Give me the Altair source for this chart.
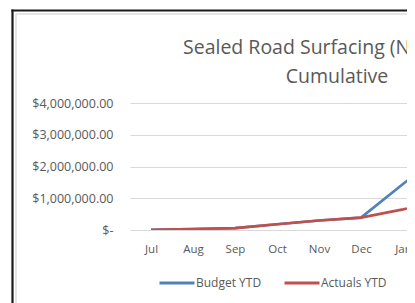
import json
import altair as alt
import pandas as pd

# ---- data ----
MONTHS = ["Jul", "Aug", "Sep", "Oct", "Nov", "Dec", "Jan", "Feb"]
BUDGET_YTD = [10000, 30000, 60000, 180000, 300000, 390000, 1450000, 2500000]
ACTUALS_YTD = [10000, 30000, 60000, 180000, 300000, 390000, 650000, 950000]
SERIES = ["Budget YTD", "Actuals YTD", "Forecast YTD"]
COLORS = ["#4F81BD", "#C0504D", "#9BBB59"]
Y_TICKS = [0, 1000000, 2000000, 3000000, 4000000]
TITLE_LINE1 = "Sealed Road Surfacing (Network)"
TITLE_LINE2 = "Cumulative"

rows = []
for name, vals in ((SERIES[0], BUDGET_YTD), (SERIES[1], ACTUALS_YTD)):
    for i, (m, v) in enumerate(zip(MONTHS, vals)):
        rows.append({"series": name, "idx": i, "month": m, "value": v})
df = pd.DataFrame(rows)

FONT = "Open Sans"
GREY = "#595959"

x_enc = alt.X(
    "idx:Q",
    scale=alt.Scale(domain=[-0.5, 6.095], nice=False, zero=False),
    axis=alt.Axis(
        title=None, values=list(range(len(MONTHS))),
        labelExpr=json.dumps(MONTHS) + "[datum.value]",
        grid=False, ticks=False, domain=False,
        labelFont=FONT, labelFontSize=11.5, labelColor=GREY, labelPadding=13,
        labelFlush=False, labelOverlap=False,
    ),
)
y_enc = alt.Y(
    "value:Q",
    scale=alt.Scale(domain=[0, 4000000], nice=False),
    axis=alt.Axis(
        title=None, values=Y_TICKS,
        labelExpr="datum.value == 0 ? '$-\u00a0\u00a0' : '$' + format(datum.value, ',.2f')",
        grid=True, gridColor="#d9d9d9", gridWidth=1,
        ticks=False, domain=False,
        labelFont=FONT, labelFontSize=12.5, labelColor=GREY, labelPadding=17,
    ),
)
color_enc = alt.Color(
    "series:N",
    scale=alt.Scale(domain=SERIES, range=COLORS),
    legend=alt.Legend(
        title=None, orient="none", direction="horizontal",
        legendX=28, legendY=161,
        symbolType="stroke", symbolSize=1225, symbolStrokeWidth=3,
        labelFont=FONT, labelFontSize=12, labelColor=GREY,
        labelOffset=0, columnPadding=16,
    ),
)

base = alt.Chart(df)
budget = base.transform_filter(alt.datum.series == SERIES[0]).mark_line(
    strokeWidth=2.6, clip=True
).encode(x=x_enc, y=y_enc, color=color_enc)
actuals = base.transform_filter(alt.datum.series == SERIES[1]).mark_line(
    strokeWidth=2.6, clip=True
).encode(x=x_enc, y=y_enc, color=color_enc)

t1 = alt.Chart(pd.DataFrame({"t": [TITLE_LINE1]})).mark_text(
    font=FONT, fontSize=19.5, color=GREY, align="left", baseline="middle"
).encode(x=alt.value(53), y=alt.value(-55), text="t:N")
t2 = alt.Chart(pd.DataFrame({"t": [TITLE_LINE2]})).mark_text(
    font=FONT, fontSize=19.5, color=GREY, align="center", baseline="middle"
).encode(x=alt.value(207), y=alt.value(-26), text="t:N")

frame = pd.DataFrame({"k": [0]})
left_border = alt.Chart(frame).mark_rule(color="#1a1a1a", strokeWidth=2.2).encode(
    x=alt.value(-117.5), y=alt.value(-93.5), y2=alt.value(205))
top_border = alt.Chart(frame).mark_rule(color="#1a1a1a", strokeWidth=2.2).encode(
    x=alt.value(-118.5), x2=alt.value(285), y=alt.value(-92.5))
left_inner = alt.Chart(frame).mark_rule(color="#dddddd", strokeWidth=1.5).encode(
    x=alt.value(-114), y=alt.value(-89), y2=alt.value(205))
top_inner = alt.Chart(frame).mark_rule(color="#dddddd", strokeWidth=1.5).encode(
    x=alt.value(-114), x2=alt.value(285), y=alt.value(-89))

chart = alt.layer(
    left_inner, top_inner, left_border, top_border, t1, t2, budget, actuals
).properties(
    width=277, height=127,
    padding={"left": 122, "top": 95, "right": 0, "bottom": 73},
    autosize=alt.AutoSizeParams(type="none"),
    background="white",
).configure_view(stroke=None)

chart.save("out.html", embed_options={"renderer": "svg", "actions": False})
